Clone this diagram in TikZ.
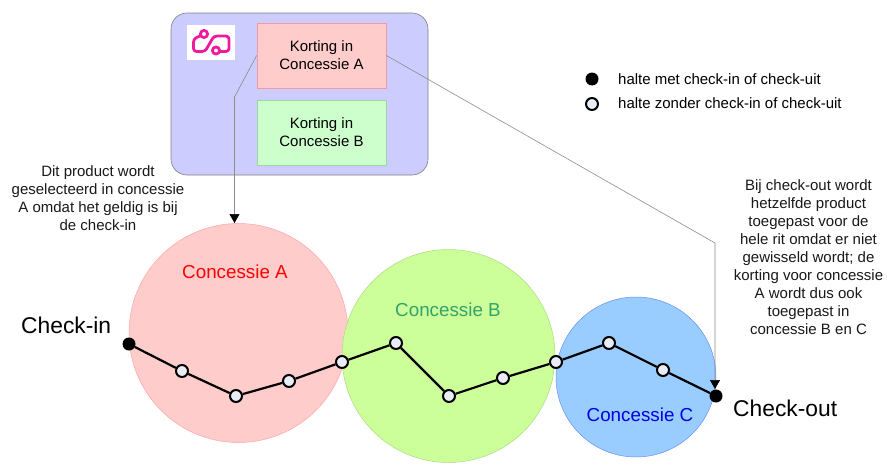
\documentclass[tikz,border=0pt]{standalone}
\usepackage{fontspec}
\setmainfont{Liberation Sans}
\usetikzlibrary{arrows.meta}
\definecolor{panelc}{HTML}{CCCCFF}
\definecolor{redc}{HTML}{FFCCCC}
\definecolor{greenc}{HTML}{CCFFCC}
\definecolor{limec}{HTML}{CCFF99}
\definecolor{bluec}{HTML}{99CCFF}
\definecolor{stopc}{HTML}{E8ECF4}
\definecolor{logoc}{HTML}{EE1C9C}
\definecolor{greenlabel}{HTML}{33A36B}
\definecolor{redline}{HTML}{F09AA8}
\definecolor{greenline}{HTML}{9AD8A8}
\tikzset{
 x=1pt,y=-1pt,
 txt/.style={align=center,font=\fontsize{15}{18}\selectfont,inner sep=0pt,text=black!90},
 boxtxt/.style={draw=#1,minimum width=129pt,minimum height=65pt,inner sep=0pt,line width=.7pt,align=center,font=\fontsize{15}{18}\selectfont},
 area/.style={circle,inner sep=0pt,line width=.5pt},
 hollow/.style={circle,draw=black,fill=stopc,line width=2pt,minimum size=12pt,inner sep=0pt},
 solid stop/.style={circle,fill=black,minimum size=13pt,inner sep=0pt},
 route/.style={line width=2.2pt,black},
 conn/.style={draw=black!45,line width=.6pt},
 tipconn/.style={conn,-{Triangle[length=9pt,width=10pt,color=black]}},
 big/.style={font=\fontsize{22.8}{24}\selectfont,inner sep=0pt},
 area label/.style={font=\fontsize{18.8}{20}\selectfont,inner sep=0pt},
 logo/.style={draw=logoc,line width=2.8pt,line join=round},
}
\begin{document}
\begin{tikzpicture}
\useasboundingbox (0,0) rectangle (887,471);
\fill[white] (0,0) rectangle (887,471);
\node[draw=black!50,fill=panelc,rounded corners=16pt,minimum width=257pt,minimum height=162pt,inner sep=0pt,line width=.6pt] (panel) at (299.5,94) {};
\fill[white] (187,25) rectangle (235,60);
\draw[logo,rounded corners=3pt] (201,35.5) -- (193.5,39) -- (193.5,51.5) -- (205,51.5) -- (214,36) -- (229,36) -- (229,51.5) -- (220,51.5);
\draw[logo,fill=white] (204,34) circle (3.6);
\draw[logo,fill=white] (216,50.5) circle (3.6);
\node[boxtxt=redline,fill=redc] (ka) at (321.5,55.5) {Korting in\\Concessie A};
\node[boxtxt=greenline,fill=greenc] (kb) at (321.5,132.5) {Korting in\\Concessie B};
\node[area,minimum size=219pt,fill=redc,draw=red!35] (ca) at (238.5,333) {};
\node[area,minimum size=213pt,fill=limec,draw=limec!85!black] (cb) at (448.5,356) {};
\node[area,minimum size=160pt,fill=bluec,draw=bluec!70!blue] (cc) at (636,377) {};
\coordinate (bendl) at (234.5,97);
\coordinate (bendr) at (715,243);
\coordinate (endr) at (715,389);
\coordinate (endl) at (234.5,223);
\draw[tipconn] (ka.west) -- (bendl) -- (endl);
\draw[tipconn] (ka.east) -- (bendr) -- (endr);
\node[area label,text=red] at (235,272) {Concessie A};
\node[area label,text=greenlabel] at (448,310) {Concessie B};
\node[area label,text=blue!90!black] at (640,415) {Concessie C};
\node[solid stop] (s1) at (129,344) {};
\node[hollow] (s2) at (182,371) {};
\node[hollow] (s3) at (236,396) {};
\node[hollow] (s4) at (289,381) {};
\node[hollow] (s5) at (342,362) {};
\node[hollow] (s6) at (396,343) {};
\node[hollow] (s7) at (449,396) {};
\node[hollow] (s8) at (503,378) {};
\node[hollow] (s9) at (556,362) {};
\node[hollow] (s10) at (609,343) {};
\node[hollow] (s11) at (663,370) {};
\node[solid stop] (s12) at (716,396) {};
\draw[route] (s1) -- (s2) -- (s3) -- (s4) -- (s5) -- (s6) -- (s7) -- (s8) -- (s9) -- (s10) -- (s11) -- (s12);
\node[big,anchor=west] (ci) at (21,325) {Check-in};
\node[big,anchor=west] (co) at (733,408) {Check-out};
\node[txt] (t1) at (98,198) {Dit product wordt\\geselecteerd in concessie\\A omdat het geldig is bij\\de check-in};
\node[txt] (t2) at (808.5,257) {Bij check-out wordt\\hetzelfde product\\toegepast voor de\\hele rit omdat er niet\\gewisseld wordt; de\\korting voor concessie\\A wordt dus ook\\toegepast in\\concessie B en C};
\node[solid stop] (l1) at (592,79) {};
\node[hollow] (l2) at (592,104) {};
\node[anchor=west,inner sep=0pt,font=\fontsize{15}{18}\selectfont] (lt1) at (618,79) {halte met check-in of check-uit};
\node[anchor=west,inner sep=0pt,font=\fontsize{15}{18}\selectfont] (lt2) at (618,103) {halte zonder check-in of check-uit};
\end{tikzpicture}
\end{document}
